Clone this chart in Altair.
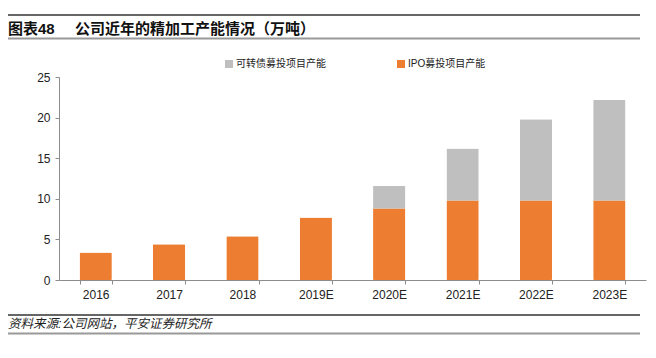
import altair as alt
import pandas as pd

years = ["2016", "2017", "2018", "2019E", "2020E", "2021E", "2022E", "2023E"]
ipo = [3.4, 4.4, 5.4, 7.7, 8.8, 9.8, 9.8, 9.8]
convertible = [0, 0, 0, 0, 2.8, 6.4, 10.0, 12.4]
series_names = ["可转债募投项目产能", "IPO募投项目产能"]
series_colors = ["#BFBFBF", "#ED7D31"]
title_a = "图表48"
title_b = "公司近年的精加工产能情况（万吨）"
source = "资料来源:公司网站，平安证券研究所"

rows = []
for y, a, b in zip(years, ipo, convertible):
    rows.append({"year": y, "series": series_names[1], "value": a, "ord": 0})
    rows.append({"year": y, "series": series_names[0], "value": b, "ord": 1})
df = pd.DataFrame(rows)

FONT = "Liberation Sans, Noto Sans CJK SC"
W, H = 587, 203

bars = alt.Chart(df).mark_bar(cornerRadius=1).encode(
    x=alt.X("year:N", sort=years, title=None,
            scale=alt.Scale(paddingInner=0.56, paddingOuter=0.28),
            axis=alt.Axis(labelAngle=0, labelFontSize=12, labelColor="#222",
                          labelFont=FONT, domainColor="#8c8c8c", tickColor="#8c8c8c",
                          tickBand="extent", tickSize=4, labelPadding=5)),
    y=alt.Y("value:Q", title=None, stack="zero",
            scale=alt.Scale(domain=[0, 25]),
            axis=alt.Axis(values=[0, 5, 10, 15, 20, 25], grid=False, labelFontSize=12,
                          labelColor="#222", labelFont=FONT, domainColor="#8c8c8c",
                          tickColor="#8c8c8c", tickSize=4, labelPadding=5)),
    color=alt.Color("series:N",
                    scale=alt.Scale(domain=series_names, range=series_colors),
                    legend=alt.Legend(title=None, orient="none", legendX=165, legendY=-18,
                                      direction="horizontal", symbolType="square",
                                      symbolSize=64, symbolStrokeWidth=0,
                                      labelFontSize=10, labelFont=FONT, labelColor="#222",
                                      columnPadding=70, labelOffset=2, labelLimit=200)),
    order=alt.Order("ord:Q"),
)

blank = alt.Chart(alt.Data(values=[{}]))

def hline(yv, color, width):
    return blank.mark_rule(color=color, strokeWidth=width).encode(
        x=alt.value(-51), x2=alt.value(581), y=alt.value(yv))

t1 = blank.mark_text(text=title_a, fontSize=15, fontWeight="bold", font=FONT,
                     align="left", baseline="alphabetic", color="#111").encode(
    x=alt.value(-51), y=alt.value(-43))
t2 = blank.mark_text(text=title_b, fontSize=15, fontWeight="bold", font=FONT,
                     align="left", baseline="alphabetic", color="#111").encode(
    x=alt.value(16), y=alt.value(-43))
t3 = blank.mark_text(text=source, fontSize=12.5, fontStyle="italic", font=FONT,
                     align="left", baseline="alphabetic", color="#222").encode(
    x=alt.value(-51), y=alt.value(251))

chart = alt.layer(
    bars,
    hline(-62, "#333333", 1.5), hline(-38.5, "#999999", 2),
    hline(238, "#333333", 1.5), hline(256.5, "#999999", 2),
    t1, t2, t3,
).properties(
    width=W, height=H,
    autosize=alt.AutoSizeParams(type="none"),
    padding={"left": 51, "top": 69, "right": 2, "bottom": 70},
).configure_view(stroke=None)

chart.save("out.html", embed_options={"renderer": "svg", "actions": False})
